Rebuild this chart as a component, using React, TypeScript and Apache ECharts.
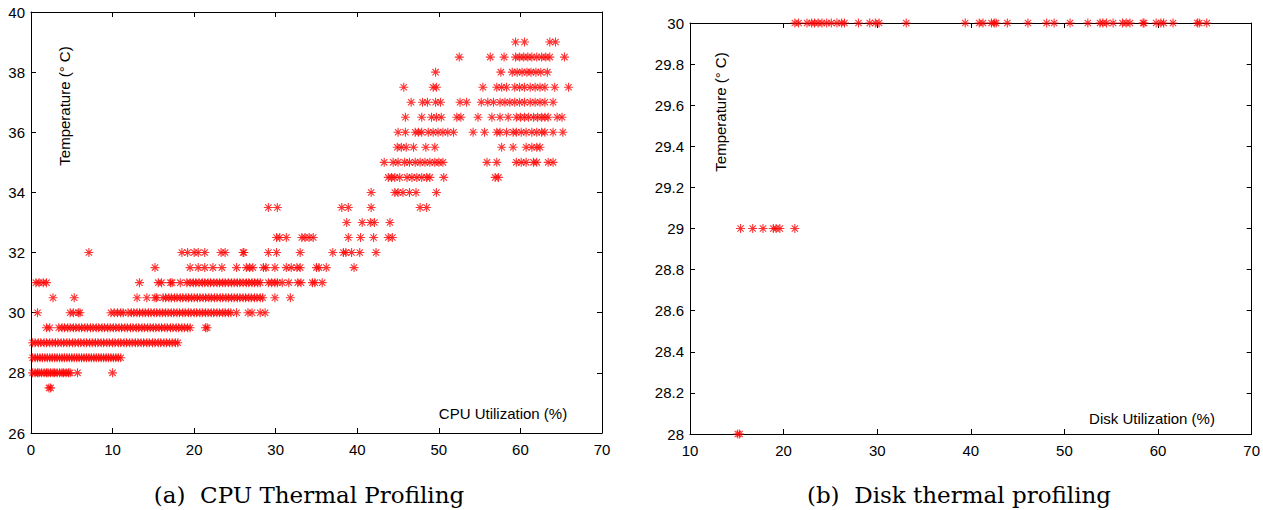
import React, { useEffect, useRef } from "react";
import * as echarts from "echarts";

// ---------- CPU thermal profiling (left) : x = CPU utilization per temperature level ----------
const cpuX275 = [2.2, 2.4];
const cpuX280 = [0.2, 0.5, 0.8, 1.0, 1.3, 1.6, 1.9, 2.1, 2.4, 2.7, 2.9, 3.2, 3.5, 3.8, 4.0, 4.3, 4.6, 4.8, 5.7, 10.0];
const cpuX285 = [0.2, 0.5, 0.8, 1.1, 1.4, 1.7, 2.0, 2.3, 2.6, 2.9, 3.2, 3.5, 3.8, 4.1, 4.4, 4.7, 5.0, 5.3, 5.6, 5.9, 6.2, 6.5, 6.8, 7.1, 7.4, 7.7, 8.0, 8.3, 8.6, 8.9, 9.2, 9.5, 9.8, 10.1, 10.4, 10.7, 11.0];
const cpuX290 = [0.2, 0.5, 0.9, 1.2, 1.6, 1.9, 2.3, 2.6, 3.0, 3.3, 3.7, 4.0, 4.4, 4.7, 5.1, 5.4, 5.8, 6.1, 6.5, 6.8, 7.2, 7.5, 7.9, 8.2, 8.6, 8.9, 9.3, 9.6, 10.0, 10.3, 10.7, 11.0, 11.4, 11.7, 12.1, 12.4, 12.8, 13.1, 13.5, 13.8, 14.2, 14.5, 14.9, 15.2, 15.6, 15.9, 16.3, 16.6, 17.0, 17.3, 17.7, 18.0];
const cpuX295 = [1.9, 2.3, 3.4, 3.8, 4.1, 4.5, 4.8, 5.2, 5.5, 5.9, 6.2, 6.6, 6.9, 7.3, 7.6, 8.0, 8.3, 8.7, 9.0, 9.4, 9.7, 10.1, 10.4, 10.8, 11.1, 11.5, 11.8, 12.2, 12.5, 12.9, 13.2, 13.6, 13.9, 14.3, 14.6, 15.0, 15.3, 15.7, 16.0, 16.4, 16.7, 17.1, 17.4, 17.8, 18.1, 18.5, 18.8, 19.2, 19.5, 21.4, 21.6];
const cpuX300 = [0.8, 4.8, 5.2, 5.8, 6.0, 9.8, 10.2, 10.6, 11.0, 11.3, 11.9, 12.3, 12.6, 13.0, 13.3, 13.7, 14.0, 14.4, 14.7, 15.1, 15.4, 15.8, 16.1, 16.5, 16.8, 17.2, 17.5, 17.9, 18.2, 18.6, 18.9, 19.3, 19.6, 20.0, 20.3, 20.7, 21.0, 21.4, 21.7, 22.1, 22.4, 22.8, 23.1, 23.5, 23.8, 24.2, 24.5, 25.2, 26.6, 27.1, 28.1, 28.7];
const cpuX305 = [2.7, 5.3, 13.0, 14.2, 15.2, 15.4, 16.2, 16.5, 16.9, 17.2, 17.6, 17.9, 18.3, 18.6, 19.0, 19.3, 19.7, 20.0, 20.4, 20.7, 21.1, 21.4, 21.8, 22.1, 22.5, 22.8, 23.2, 23.5, 23.9, 24.2, 24.6, 24.9, 25.3, 25.6, 26.0, 26.3, 26.7, 27.0, 27.4, 27.7, 28.1, 28.4, 29.9, 31.8];
const cpuX310 = [0.6, 1.0, 1.5, 1.9, 13.3, 15.6, 16.0, 17.1, 17.3, 18.3, 19.1, 19.5, 19.9, 20.2, 20.6, 21.0, 21.3, 21.7, 22.0, 22.4, 22.8, 23.1, 23.5, 23.8, 24.2, 24.6, 24.9, 25.3, 25.6, 26.0, 26.4, 26.7, 27.1, 27.4, 27.8, 28.1, 29.1, 29.5, 29.9, 30.2, 30.8, 31.6, 32.7, 33.1, 34.5, 34.8, 35.7];
const cpuX315 = [15.2, 19.5, 20.5, 21.3, 22.3, 23.4, 25.2, 26.4, 26.8, 27.2, 28.5, 28.8, 29.9, 31.3, 31.9, 32.6, 33.0, 35.0, 35.3, 36.2, 39.6];
const cpuX320 = [7.1, 18.5, 19.2, 20.0, 20.5, 21.3, 23.3, 23.8, 26.0, 26.1, 29.1, 30.1, 33.0, 37.0, 38.3, 38.6, 39.3, 40.3, 42.3];
const cpuX325 = [30.1, 30.5, 31.3, 33.2, 33.6, 34.1, 34.6, 38.9, 40.4, 42.0, 43.8, 44.3];
const cpuX330 = [38.7, 40.6, 41.6, 42.1, 44.0];
const cpuX335 = [29.1, 30.2, 38.1, 38.9, 41.7, 47.7, 48.5];
const cpuX340 = [41.7, 44.6, 45.0, 45.6, 46.4, 47.2, 49.7];
const cpuX345 = [43.8, 44.2, 44.6, 45.2, 46.1, 46.7, 47.3, 47.9, 48.5, 48.9, 50.6, 56.9, 57.3];
const cpuX350 = [43.3, 44.4, 45.0, 45.8, 46.4, 47.1, 47.7, 48.3, 48.9, 49.5, 50.0, 50.5, 55.9, 57.1, 59.5, 60.1, 60.7, 61.6, 62.0, 63.4, 64.0];
const cpuX355 = [44.9, 45.4, 46.0, 46.9, 48.4, 49.5, 57.7, 59.1, 60.7, 61.4, 62.0, 62.4];
const cpuX360 = [45.0, 45.9, 47.1, 47.5, 47.9, 48.7, 49.3, 49.9, 50.5, 51.1, 51.8, 54.2, 55.6, 57.1, 57.5, 58.3, 59.1, 59.5, 60.1, 60.7, 61.4, 62.0, 62.6, 63.0, 64.0, 65.2];
const cpuX365 = [45.9, 47.9, 49.1, 49.7, 50.3, 52.2, 52.7, 54.8, 56.5, 57.5, 58.5, 59.5, 60.0, 60.5, 61.0, 61.6, 62.1, 62.6, 63.0, 63.4, 64.5, 65.1];
const cpuX370 = [46.6, 48.0, 48.6, 49.6, 50.2, 52.6, 53.4, 55.2, 56.0, 56.7, 57.5, 58.1, 58.7, 59.3, 59.9, 60.5, 61.2, 61.8, 62.4, 63.0, 64.0];
const cpuX375 = [45.7, 49.3, 49.7, 55.4, 57.1, 57.7, 58.3, 59.3, 59.9, 60.5, 61.2, 61.8, 62.4, 63.0, 64.2, 65.9];
const cpuX380 = [49.6, 57.6, 59.0, 59.6, 60.2, 60.8, 61.3, 61.9, 62.5, 63.3];
const cpuX385 = [52.5, 56.3, 58.0, 59.4, 59.9, 60.4, 60.9, 61.4, 62.0, 62.6, 63.1, 63.6, 65.4];
const cpuX390 = [59.4, 60.5, 63.6, 64.3];

const cpuTemps = [27.5, 28, 28.5, 29, 29.5, 30, 30.5, 31, 31.5, 32, 32.5, 33, 33.5, 34, 34.5, 35, 35.5, 36, 36.5, 37, 37.5, 38, 38.5, 39];
const cpuRowsX = [cpuX275, cpuX280, cpuX285, cpuX290, cpuX295, cpuX300, cpuX305, cpuX310, cpuX315, cpuX320, cpuX325, cpuX330, cpuX335, cpuX340, cpuX345, cpuX350, cpuX355, cpuX360, cpuX365, cpuX370, cpuX375, cpuX380, cpuX385, cpuX390];

// ---------- Disk thermal profiling (right) ----------
const diskX280 = [15.1, 15.3];
const diskX290 = [15.4, 16.7, 17.8, 18.9, 19.2, 19.6, 21.2];
const diskX300 = [21.2, 21.6, 22.5, 23.0, 23.3, 23.7, 24.1, 24.6, 25.1, 25.7, 26.2, 26.5, 28.0, 29.2, 29.8, 30.2, 33.1, 39.4, 40.9, 41.3, 42.2, 42.5, 42.7, 43.9, 46.1, 48.1, 48.9, 50.6, 52.5, 53.8, 54.1, 54.5, 55.2, 56.2, 56.6, 57.0, 58.4, 58.5, 59.8, 60.3, 60.6, 61.6, 64.2, 64.4, 65.2];
const diskTemps = [28, 29, 30];
const diskRowsX = [diskX280, diskX290, diskX300];

const cpuXTicks = { min: 0, max: 70, interval: 10 };
const cpuYTicks = { min: 26, max: 40, interval: 2 };
const diskXTicks = { min: 10, max: 70, interval: 10 };
const diskYTicks = { min: 28, max: 30, interval: 0.2 };

const captionA = "(a)  CPU Thermal Profiling";
const captionB = "(b)  Disk thermal profiling";

const STAR = "path://M5,0V10M0,5H10M1.5,1.5L8.5,8.5M1.5,8.5L8.5,1.5";
const FONT = "Liberation Sans";

function rows(temps: number[], xs: number[][]) {
  const out: number[][] = [];
  temps.forEach((t, i) => xs[i].forEach((x) => out.push([x, t])));
  return out;
}

function axisPair(kind: "x" | "y", grid: number, ticks: any, pos: string, labels: boolean) {
  return {
    type: "value",
    gridIndex: grid,
    position: pos,
    min: ticks.min,
    max: ticks.max,
    interval: ticks.interval,
    axisLine: { show: true, onZero: false, lineStyle: { color: "#000", width: 1 } },
    axisTick: { show: true, inside: true, length: 5, lineStyle: { color: "#000" } },
    splitLine: { show: false },
    axisLabel: labels
      ? { show: true, color: "#000", fontFamily: FONT, fontSize: 15, margin: kind === "x" ? 9 : 6 }
      : { show: false },
  };
}

export default function App() {
  const ref = useRef<HTMLDivElement>(null);
  useEffect(() => {
    if (!ref.current) return;
    const chart = echarts.init(ref.current, undefined, { renderer: "svg" });
    const symbolStyle = { color: "rgba(0,0,0,0)", borderColor: "#ff0000", borderWidth: 1.1 };
    chart.setOption({
      animation: false,
      backgroundColor: "#fff",
      grid: [
        { left: 31, top: 12, width: 571, height: 421 },
        { left: 690, top: 23, width: 562, height: 411 },
      ],
      xAxis: [
        axisPair("x", 0, cpuXTicks, "bottom", true),
        axisPair("x", 0, cpuXTicks, "top", false),
        axisPair("x", 1, diskXTicks, "bottom", true),
        axisPair("x", 1, diskXTicks, "top", false),
      ],
      yAxis: [
        axisPair("y", 0, cpuYTicks, "left", true),
        axisPair("y", 0, cpuYTicks, "right", false),
        axisPair("y", 1, diskYTicks, "left", true),
        axisPair("y", 1, diskYTicks, "right", false),
      ],
      series: [
        {
          type: "scatter",
          xAxisIndex: 0,
          yAxisIndex: 0,
          symbol: STAR,
          symbolSize: 9,
          clip: false,
          itemStyle: symbolStyle,
          data: rows(cpuTemps, cpuRowsX),
        },
        {
          type: "scatter",
          xAxisIndex: 2,
          yAxisIndex: 2,
          symbol: STAR,
          symbolSize: 9,
          clip: false,
          itemStyle: symbolStyle,
          data: rows(diskTemps, diskRowsX),
        },
      ],
      graphic: [
        {
          type: "text",
          x: 64,
          y: 106,
          rotation: Math.PI / 2,
          style: { text: "Temperature (° C)", fill: "#000", font: `15px "${FONT}"`, align: "center", verticalAlign: "middle" },
        },
        {
          type: "text",
          x: 720,
          y: 112,
          rotation: Math.PI / 2,
          style: { text: "Temperature (° C)", fill: "#000", font: `15px "${FONT}"`, align: "center", verticalAlign: "middle" },
        },
        {
          type: "text",
          x: 503,
          y: 413,
          style: { text: "CPU Utilization (%)", fill: "#000", font: `15px "${FONT}"`, align: "center", verticalAlign: "middle" },
        },
        {
          type: "text",
          x: 1152,
          y: 418,
          style: { text: "Disk Utilization (%)", fill: "#000", font: `15px "${FONT}"`, align: "center", verticalAlign: "middle" },
        },
        {
          type: "text",
          x: 309,
          y: 495,
          style: { text: captionA, fill: "#000", font: `23px "DejaVu Serif"`, align: "center", verticalAlign: "middle" },
        },
        {
          type: "text",
          x: 959,
          y: 495,
          style: { text: captionB, fill: "#000", font: `23px "DejaVu Serif"`, align: "center", verticalAlign: "middle" },
        },
      ],
    });
    return () => chart.dispose();
  }, []);
  return <div ref={ref} style={{ position: "absolute", left: 0, top: 0, width: 1263, height: 510 }} />;
}
